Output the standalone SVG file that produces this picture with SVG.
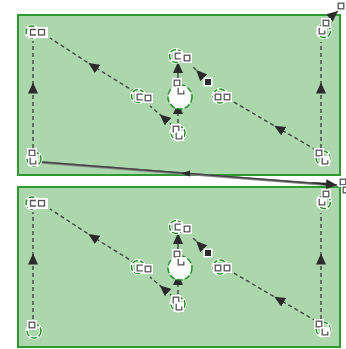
<svg xmlns="http://www.w3.org/2000/svg" xmlns:xlink="http://www.w3.org/1999/xlink" width="346" height="349" viewBox="0 0 346 349">
  <style>
    .panel { fill: #acd6ac; stroke: #2f9a2f; stroke-width: 2; }
    .ring { fill: none; stroke: #fff; stroke-width: 3.2; }
    .ringg { fill: none; stroke: #1f8f1f; stroke-width: 1.5; stroke-dasharray: 6 2; }
    .big { fill: #fff; stroke: #1f8f1f; stroke-width: 1.5; stroke-dasharray: 6 2; }
    .dash { fill: none; stroke: #444; stroke-width: 1.4; stroke-dasharray: 4 3; }
    .solid { fill: none; stroke: #444; stroke-width: 1.4; }
    .box { fill: #fff; }
    .glyph { fill: none; stroke: #555; stroke-width: 1.3; }
  </style>
  <defs>
    <marker id="arr" viewBox="0 0 11 10" refX="5.5" refY="5" markerWidth="11" markerHeight="10" markerUnits="userSpaceOnUse" orient="auto">
      <path d="M0,0 L11,5 L0,10 z" fill="#2b2b2b"/>
    </marker>
    <marker id="arrEnd" viewBox="0 0 11 10" refX="11" refY="5" markerWidth="11" markerHeight="10" markerUnits="userSpaceOnUse" orient="auto">
      <path d="M0,0 L11,5 L0,10 z" fill="#2b2b2b"/>
    </marker>
    <!-- small label icons -->
    <g id="sq"><rect class="box" x="-5" y="-5" width="10" height="10"/><rect class="glyph" x="-2.8" y="-2.8" width="5.6" height="5.6"/></g>
    <g id="u"><rect class="box" x="-5" y="-5" width="10" height="10"/><path class="glyph" d="M-2.8,-3.2 V2.8 H2.8 V-0.5"/></g>
    <g id="c"><rect class="box" x="-5" y="-5" width="10" height="10"/><path class="glyph" d="M2.8,-2.8 H-2.8 V2.8 H2.8"/></g>
    <g id="bsq"><rect class="box" x="-4.5" y="-4.5" width="9" height="9"/><rect x="-3" y="-3" width="6" height="6" fill="#2b2b2b"/></g>
  </defs>

  <!-- panels -->
  <rect class="panel" x="18" y="15" width="322" height="160"/>
  <rect class="panel" x="18" y="187" width="322" height="160"/>

  <!-- connectors -->
  <g id="connectors">
    <g id="edges-top">
      <path class="dash" d="M33,148 L33,88 L33,41" marker-mid="url(#arr)"/>
      <path class="dash" d="M135,92 L93,66 L50,38" marker-mid="url(#arr)"/>
      <path class="dash" d="M173,126 L164,118 L150,106" marker-mid="url(#arr)"/>
      <path class="dash" d="M178,123 L178,103" marker-end="url(#arrEnd)"/>
      <path class="solid" d="M178,78 L178,62" marker-end="url(#arrEnd)"/>
      <path class="dash" d="M206,80 L200,74 L192,66" marker-mid="url(#arr)"/>
      <path class="dash" d="M316,150 L279,128.5 L232,101" marker-mid="url(#arr)"/>
      <path class="dash" d="M321,148 L321,88 L321,42" marker-mid="url(#arr)"/>
      <path d="M42,162.5 L336,185.5" fill="none" stroke="#888" stroke-width="2.4"/>
      <path class="solid" d="M42,162 L337,185" marker-end="url(#arrEnd)"/>
      <path d="M310,182 L331,183 L331,186.5 z" fill="#2b2b2b"/>
      <path d="M190,170.6 L181,173.6 L190,176.6 z" fill="#2b2b2b"/>
      <use xlink:href="#sq" href="#sq" x="343" y="182"/>
      <use xlink:href="#sq" href="#sq" x="346" y="190"/>
      <path class="solid" d="M327,20 L338,11" marker-end="url(#arrEnd)"/>
      <use xlink:href="#sq" href="#sq" x="341" y="6"/>
    </g>
    <g id="edges-bottom" transform="translate(0,171)">
      <path class="dash" d="M33,148 L33,88 L33,41" marker-mid="url(#arr)"/>
      <path class="dash" d="M135,92 L93,66 L50,38" marker-mid="url(#arr)"/>
      <path class="dash" d="M173,126 L164,118 L150,106" marker-mid="url(#arr)"/>
      <path class="dash" d="M178,123 L178,103" marker-end="url(#arrEnd)"/>
      <path class="solid" d="M178,78 L178,62" marker-end="url(#arrEnd)"/>
      <path class="dash" d="M206,80 L200,74 L192,66" marker-mid="url(#arr)"/>
      <path class="dash" d="M316,150 L279,128.5 L232,101" marker-mid="url(#arr)"/>
      <path class="dash" d="M321,148 L321,88 L321,42" marker-mid="url(#arr)"/>
    </g>
  </g>

  <!-- top panel nodes -->
  <g id="t_A"><circle class="ring" cx="32" cy="32" r="6"/><circle class="ringg" cx="32" cy="32" r="6"/>
    <rect class="box" x="28" y="27" width="20" height="11"/>
    <path class="glyph" d="M36,29.5 H30.5 V35 H36"/><rect class="glyph" x="38.5" y="29.5" width="6" height="5.5"/></g>
  <g id="t_B"><circle class="ring" cx="324" cy="31" r="6.5"/><circle class="ringg" cx="324" cy="31" r="6.5"/>
    <use href="#u" xlink:href="#u" x="322" y="31"/><use href="#sq" xlink:href="#sq" x="326" y="23"/></g>
  <g id="t_C"><circle class="ring" cx="176" cy="56" r="6.5"/><circle class="ringg" cx="176" cy="56" r="6.5"/>
    <use href="#c" xlink:href="#c" x="178" y="56"/><use href="#sq" xlink:href="#sq" x="187" y="58"/></g>
  <g id="t_D"><circle class="big" cx="180" cy="97" r="12"/>
    <use href="#sq" xlink:href="#sq" x="177" y="83"/><use href="#u" xlink:href="#u" x="181" y="91"/></g>
  <g id="t_E"><circle class="ring" cx="138" cy="96" r="6.5"/><circle class="ringg" cx="138" cy="96" r="6.5"/>
    <use href="#c" xlink:href="#c" x="140" y="97"/><use href="#sq" xlink:href="#sq" x="148" y="98"/></g>
  <g id="t_F"><circle class="ring" cx="220" cy="96" r="7"/><circle class="ringg" cx="220" cy="96" r="7"/>
    <use href="#sq" xlink:href="#sq" x="218" y="97"/><use href="#sq" xlink:href="#sq" x="227" y="97"/></g>
  <g id="t_S"><use href="#bsq" xlink:href="#bsq" x="208" y="82"/></g>
  <g id="t_G"><circle class="ring" cx="178" cy="133" r="7"/><circle class="ringg" cx="178" cy="133" r="7"/>
    <use href="#sq" xlink:href="#sq" x="176" y="129"/><use href="#u" xlink:href="#u" x="179" y="136"/></g>
  <g id="t_H"><circle class="ring" cx="34" cy="159" r="7"/><circle class="ringg" cx="34" cy="159" r="7"/>
    <use href="#sq" xlink:href="#sq" x="32" y="153"/><use href="#u" xlink:href="#u" x="33" y="161"/></g>
  <g id="t_I"><circle class="ring" cx="323" cy="158" r="7"/><circle class="ringg" cx="323" cy="158" r="7"/>
    <use href="#sq" xlink:href="#sq" x="319" y="153"/><use href="#u" xlink:href="#u" x="325" y="161"/></g>

  <!-- bottom panel nodes -->
  <g transform="translate(0,171)">
    <g id="b_A"><circle class="ring" cx="32" cy="32" r="6"/><circle class="ringg" cx="32" cy="32" r="6"/>
      <rect class="box" x="28" y="27" width="20" height="11"/>
      <path class="glyph" d="M36,29.5 H30.5 V35 H36"/><rect class="glyph" x="38.5" y="29.5" width="6" height="5.5"/></g>
    <g id="b_B"><circle class="ring" cx="324" cy="31" r="6.5"/><circle class="ringg" cx="324" cy="31" r="6.5"/>
      <use href="#u" xlink:href="#u" x="322" y="31"/><use href="#sq" xlink:href="#sq" x="326" y="23"/></g>
    <g id="b_C"><circle class="ring" cx="176" cy="56" r="6.5"/><circle class="ringg" cx="176" cy="56" r="6.5"/>
      <use href="#c" xlink:href="#c" x="178" y="56"/><use href="#sq" xlink:href="#sq" x="187" y="58"/></g>
    <g id="b_D"><circle class="big" cx="180" cy="97" r="12"/>
      <use href="#sq" xlink:href="#sq" x="177" y="83"/><use href="#u" xlink:href="#u" x="181" y="91"/></g>
    <g id="b_E"><circle class="ring" cx="138" cy="96" r="6.5"/><circle class="ringg" cx="138" cy="96" r="6.5"/>
      <use href="#c" xlink:href="#c" x="140" y="97"/><use href="#sq" xlink:href="#sq" x="148" y="98"/></g>
    <g id="b_F"><circle class="ring" cx="220" cy="96" r="7"/><circle class="ringg" cx="220" cy="96" r="7"/>
      <use href="#sq" xlink:href="#sq" x="218" y="97"/><use href="#sq" xlink:href="#sq" x="227" y="97"/></g>
    <g id="b_S"><use href="#bsq" xlink:href="#bsq" x="208" y="82"/></g>
    <g id="b_G"><circle class="ring" cx="178" cy="133" r="7"/><circle class="ringg" cx="178" cy="133" r="7"/>
      <use href="#sq" xlink:href="#sq" x="176" y="129"/><use href="#u" xlink:href="#u" x="179" y="136"/></g>
    <g id="b_H"><circle class="ring" cx="34" cy="160" r="7"/><circle class="ringg" cx="34" cy="160" r="7"/>
      <use href="#sq" xlink:href="#sq" x="32" y="154"/></g>
    <g id="b_I"><circle class="ring" cx="323" cy="158" r="7"/><circle class="ringg" cx="323" cy="158" r="7"/>
      <use href="#sq" xlink:href="#sq" x="319" y="153"/><use href="#u" xlink:href="#u" x="325" y="161"/></g>
  </g>
</svg>
